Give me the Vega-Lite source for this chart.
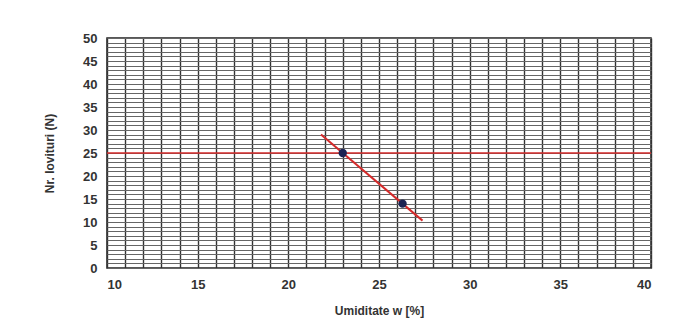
{
  "$schema": "https://vega.github.io/schema/vega-lite/v6.json",
  "width": 544,
  "height": 230,
  "autosize": {"type": "none"},
  "padding": {"left": 107, "top": 38, "right": 30, "bottom": 68},
  "background": "white",
  "config": {
    "view": {"stroke": "#222", "strokeWidth": 1.5},
    "font": "Liberation Sans"
  },
  "datasets": {
    "pts": [{"w": 23.0, "N": 25}, {"w": 26.3, "N": 14}],
    "trend": [{"w": 21.8, "N": 29}, {"w": 27.4, "N": 10.3}],
    "ref": [{"w": 10, "N": 25}, {"w": 40, "N": 25}]
  },
  "layer": [
    {
      "data": {"name": "ref"},
      "mark": {"type": "line", "color": "#d42a2a", "strokeWidth": 1.5, "clip": true},
      "encoding": {
        "x": {"field": "w", "type": "quantitative",
          "scale": {"domain": [10, 40], "nice": false},
          "axis": {
            "values": [10,11,12,13,14,15,16,17,18,19,20,21,22,23,24,25,26,27,28,29,30,31,32,33,34,35,36,37,38,39,40],
            "tickCount": 100,
            "format": "d",
            "labelOverlap": false,
            "labelExpr": "datum.value % 5 === 0 ? datum.label : ''",
            "grid": true, "gridColor": "#333", "gridWidth": 1.4, "gridOpacity": 1,
            "ticks": false, "domain": false,
            "labelFontSize": 13, "labelFontWeight": "bold", "labelColor": "#333", "labelPadding": 10,
            "title": "Umiditate w [%]", "titleFontSize": 12, "titleFontWeight": "bold", "titleColor": "#333", "titlePadding": 14
          }},
        "y": {"field": "N", "type": "quantitative",
          "scale": {"domain": [0, 50], "nice": false},
          "axis": {
            "values": [0,1,2,3,4,5,6,7,8,9,10,11,12,13,14,15,16,17,18,19,20,21,22,23,24,25,26,27,28,29,30,31,32,33,34,35,36,37,38,39,40,41,42,43,44,45,46,47,48,49,50],
            "tickCount": 100,
            "format": "d",
            "labelOverlap": false,
            "labelExpr": "datum.value % 5 === 0 ? datum.label : ''",
            "grid": true, "gridColor": "#666", "gridWidth": 1.2, "gridOpacity": 1,
            "ticks": false, "domain": false,
            "labelFontSize": 13, "labelFontWeight": "bold", "labelColor": "#333", "labelPadding": 10,
            "title": "Nr. lovituri  (N)", "titleFontSize": 12, "titleFontWeight": "bold", "titleColor": "#333", "titlePadding": 26
          }}
      }
    },
    {
      "data": {"name": "trend"},
      "mark": {"type": "line", "color": "#d42a2a", "strokeWidth": 2},
      "encoding": {
        "x": {"field": "w", "type": "quantitative"},
        "y": {"field": "N", "type": "quantitative"}
      }
    },
    {
      "data": {"name": "pts"},
      "mark": {"type": "point", "filled": true, "color": "#1c2353", "size": 70, "opacity": 1},
      "encoding": {
        "x": {"field": "w", "type": "quantitative"},
        "y": {"field": "N", "type": "quantitative"}
      }
    }
  ]
}
